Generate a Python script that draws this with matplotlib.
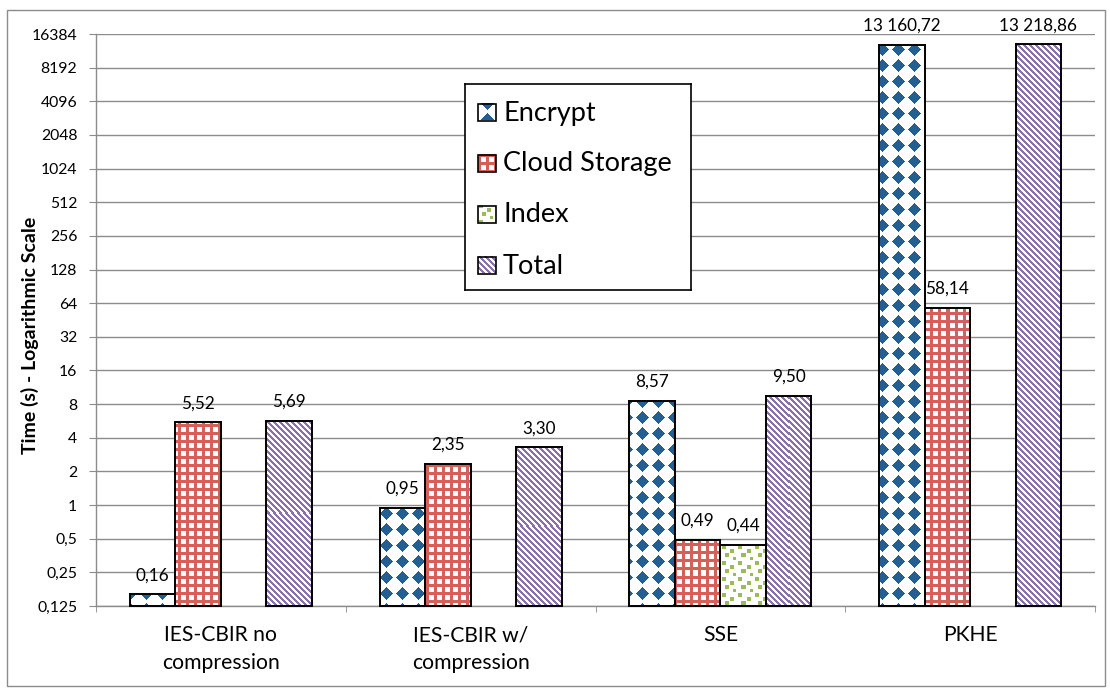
import numpy as np
import matplotlib.pyplot as plt
from matplotlib.patches import Rectangle
from matplotlib.ticker import NullLocator

plt.rcParams['font.family'] = ['Lato', 'DejaVu Sans']

W, H = 1110, 690
Y_MIN, Y_MAX = 0.125, 16384

categories = ["IES-CBIR no\ncompression", "IES-CBIR w/\ncompression", "SSE", "PKHE"]
series_names = ["Encrypt", "Cloud Storage", "Index", "Total"]
encrypt = [0.16, 0.95, 8.57, 13160.72]
cloud_storage = [5.52, 2.35, 0.49, 58.14]
index = [None, None, 0.44, None]
total = [5.69, 3.30, 9.50, 13218.86]
y_ticks = [2.0 ** k for k in range(-3, 15)]

BLUE = '#255E91'
RED = '#D4605B'
GREEN = '#9BBB59'
PURPLE = '#8A70AE'
GRID = '#8C8C8C'


# bitmap fills, phased on figure pixels so neighbouring bars line up
def grid_rc(h, w, row0, col0):
    rr, cc = np.mgrid[0:h, 0:w]
    return rr + row0, cc + col0


def paint(mask, color):
    rgb = np.array(plt.matplotlib.colors.to_rgb(color))
    img = np.ones(mask.shape + (3,))
    img[mask] = rgb
    return img


def diamonds(h, w, row0, col0):
    r, c = grid_rc(h, w, row0, col0)
    dy = ((r - 1 + 8) % 16) - 8
    dx = ((c - 2 + 8) % 16) - 8
    return paint(np.abs(dx) + np.abs(dy) <= 6, BLUE)


def squares(h, w, row0, col0):
    r, c = grid_rc(h, w, row0, col0)
    return paint(((c - 2) % 8 < 3) | (r % 8 < 3), RED)


def confetti(h, w, row0, col0):
    r, c = grid_rc(h, w, row0, col0)
    rt, ct = r % 16, c % 16
    mask = np.zeros(r.shape, dtype=bool)
    for pr, pc in [(1, 2), (5, 10), (9, 5), (13, 13)]:
        mask |= (rt >= pr) & (rt < pr + 4) & (ct >= pc) & (ct < pc + 4)
    return paint(mask, GREEN)


def stripes(h, w, row0, col0):
    r, c = grid_rc(h, w, row0, col0)
    return paint((c - r) % 6 < 3, PURPLE)


fills = [diamonds, squares, confetti, stripes]
series = [encrypt, cloud_storage, index, total]


def fmt_value(v):
    return f"{v:,.2f}".replace(',', ' ').replace('.', ',')


def fmt_tick(v):
    return str(int(v)) if v >= 1 else str(v).replace('.', ',')


fig = plt.figure(figsize=(W / 100, H / 100), dpi=100)
ax = fig.add_axes([96 / W, 84 / H, 999 / W, 572 / H])
ax.set_yscale('log', base=2)
ax.set_ylim(Y_MIN, Y_MAX)
ax.set_xlim(-0.5, len(categories) - 0.5)

bw = 0.182
x = np.arange(len(categories))

for j, (vals, fill) in enumerate(zip(series, fills)):
    for i, v in enumerate(vals):
        if v is None:
            continue
        xc = x[i] + (j - 1.5) * bw
        bar = ax.bar(xc, v - Y_MIN, bottom=Y_MIN, width=bw,
                     color='none', edgecolor='none')[0]
        # pattern + outline in a pixel-aligned axes over the bar
        px0, py0 = ax.transData.transform((bar.get_x(), Y_MIN))
        px1, py1 = ax.transData.transform((bar.get_x() + bw, v))
        left, right = int(round(px0)), int(round(px1))
        bottom, top = int(round(py0)), int(round(py1))
        bw_px, bh_px = right - left, top - bottom
        pax = fig.add_axes([left / W, bottom / H, bw_px / W, bh_px / H])
        pax.imshow(fill(bh_px, bw_px, H - top, left), aspect='auto',
                   interpolation='nearest', extent=(0, bw_px, 0, bh_px))
        pax.set_xticks([])
        pax.set_yticks([])
        for s in pax.spines.values():
            s.set_color('black')
            s.set_linewidth(1.4)
        ax.annotate(fmt_value(v), (xc, v), xytext=(0, 10),
                    textcoords='offset points', ha='center', va='baseline',
                    fontsize=12.3)

ax.grid(axis='y', color=GRID, linewidth=1.0)
ax.set_axisbelow(True)
for side in ['top', 'right']:
    ax.spines[side].set_visible(False)
for side in ['left', 'bottom']:
    ax.spines[side].set_color(GRID)
    ax.spines[side].set_linewidth(1.0)

ax.set_yticks(y_ticks)
ax.set_yticklabels([fmt_tick(v) for v in y_ticks])
ax.yaxis.set_minor_locator(NullLocator())
ax.tick_params(axis='y', direction='out', length=5, color=GRID,
               labelsize=11.3, pad=8.5)

ax.set_xticks(x)
ax.set_xticklabels(categories, fontsize=15.2, linespacing=1.45, va='top')
ax.set_xticks(np.arange(len(categories) + 1) - 0.5, minor=True)
ax.tick_params(axis='x', which='major', length=0, pad=14)
ax.tick_params(axis='x', which='minor', direction='out', length=4.5,
               color=GRID)

fig.text(30 / W, 1 - 335 / H, "Time (s) - Logarithmic Scale", rotation=90,
         fontsize=14, fontweight='bold', ha='center', va='center')

# legend box with bitmap swatches
lax = fig.add_axes([465 / W, (H - 290) / H, 226 / W, 206 / H], zorder=5)
lax.set_xlim(0, 226)
lax.set_ylim(206, 0)
lax.set_xticks([])
lax.set_yticks([])
for s in lax.spines.values():
    s.set_color('black')
    s.set_linewidth(1.2)
swatch_phase = [(1, 9), (0, 2), (2, 1), (0, 0)]
for k, (name, fill) in enumerate(zip(series_names, fills)):
    cy = 28 + 51 * k
    r0, c0 = swatch_phase[k]
    lax.imshow(fill(17, 18, r0, c0), aspect='auto', interpolation='nearest',
               extent=(13, 31, cy + 8.5, cy - 8.5))
    lax.add_patch(Rectangle((13, cy - 8.5), 18, 17, fill=False,
                            edgecolor='black', linewidth=1.2))
    lax.text(38, cy + 1, name, fontsize=19.5, va='center', ha='left')

fig.add_artist(Rectangle((7 / W, 4 / H), 1098 / W, 676 / H,
                         transform=fig.transFigure, fill=False,
                         edgecolor=GRID, linewidth=1.0))

fig.savefig('out.png', dpi=100)
